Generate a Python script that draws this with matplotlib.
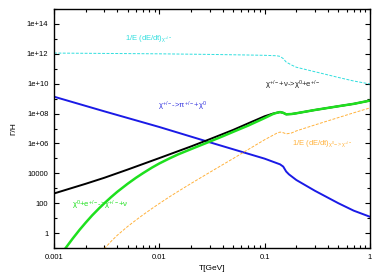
import matplotlib
matplotlib.use("Agg")
import matplotlib.pyplot as plt
import matplotlib.ticker as mticker
import numpy as np

plt.rcParams['font.family'] = ['Liberation Sans', 'DejaVu Sans']
plt.rcParams['mathtext.fontset'] = 'custom'
plt.rcParams['mathtext.rm'] = 'Liberation Sans'
plt.rcParams['mathtext.it'] = 'Liberation Sans'
plt.rcParams['mathtext.bf'] = 'Liberation Sans:bold'

# rates, stored as log10(Gamma/H)
T_cyan = [0.001, 0.01, 0.03, 0.07, 0.1, 0.13, 0.14, 0.15, 0.16, 0.18, 0.2, 0.3, 0.5, 0.7, 1.0]
cyan = [12.05, 12.0, 11.96, 11.92, 11.9, 11.87, 11.83, 11.68, 11.45, 11.25, 11.1, 10.8, 10.42, 10.18, 9.98]

T_blue = [0.001, 0.003, 0.01, 0.03, 0.1, 0.14, 0.15, 0.16, 0.17, 0.2, 0.3, 0.5, 0.7, 1.0]
blue = [9.13, 8.15, 7.1, 6.08, 4.98, 4.6, 4.45, 4.12, 3.93, 3.55, 2.83, 2.0, 1.5, 1.09]

T_black = [0.001, 0.002, 0.003, 0.005, 0.01, 0.02, 0.03, 0.05, 0.07, 0.1, 0.12, 0.14,
           0.15, 0.16, 0.18, 0.2, 0.3, 0.5, 0.7, 1.0]
black = [2.65, 3.3, 3.7, 4.25, 5.02, 5.8, 6.28, 6.9, 7.35, 7.82, 8.0, 8.1,
         8.05, 7.95, 7.97, 8.02, 8.24, 8.49, 8.65, 8.87]

T_green = [0.00129, 0.0015, 0.00175, 0.002, 0.0023, 0.0027, 0.003, 0.0035, 0.004, 0.005,
           0.006, 0.007, 0.0085, 0.01, 0.0125, 0.015, 0.02, 0.03, 0.04, 0.05, 0.07, 0.1,
           0.12, 0.13, 0.14, 0.15, 0.16, 0.18, 0.2, 0.3, 0.5, 0.7, 1.0]
green = [-1.0, -0.38, 0.22, 0.70, 1.18, 1.68, 1.99, 2.42, 2.77, 3.30,
         3.70, 4.01, 4.38, 4.66, 5.0, 5.26, 5.62, 6.12, 6.48, 6.77, 7.2, 7.7,
         7.97, 8.05, 8.1, 8.05, 7.95, 7.97, 8.02, 8.24, 8.49, 8.65, 8.87]

T_orange = [0.003, 0.0035, 0.004, 0.005, 0.006, 0.007, 0.0085, 0.01, 0.0125, 0.015, 0.02,
            0.03, 0.04, 0.05, 0.07, 0.1, 0.12, 0.13, 0.14, 0.15, 0.16, 0.18, 0.2, 0.3,
            0.5, 0.7, 1.0]
orange = [-1.05, -0.54, -0.14, 0.44, 0.87, 1.22, 1.64, 1.98, 2.43, 2.78, 3.32,
          4.06, 4.58, 4.98, 5.6, 6.25, 6.55, 6.68, 6.76, 6.72, 6.64, 6.7, 6.84, 7.24,
          7.73, 8.05, 8.38]

y_ticks = [1, 1e2, 1e4, 1e6, 1e8, 1e10, 1e12, 1e14]
y_labels = ['1', '100', '10000', '1e+06', '1e+08', '1e+10', '1e+12', '1e+14']
x_ticks = [0.001, 0.01, 0.1, 1]
x_labels = ['0.001', '0.01', '0.1', '1']

c_cyan = '#30dede'
c_blue = '#1a1ae6'
c_green = '#1ee01e'
c_orange = '#ffb23c'

fig = plt.figure(figsize=(3.82, 2.73), dpi=100)
ax = fig.add_axes([0.1414, 0.0916, 0.8272, 0.8754])

p = lambda v: 10 ** np.array(v)
ax.plot(T_cyan, p(cyan), color=c_cyan, lw=0.7, dashes=(3, 1.5))
ax.plot(T_blue, p(blue), color=c_blue, lw=1.4)
ax.plot(T_black, p(black), color='black', lw=1.4)
ax.plot(T_green, p(green), color=c_green, lw=1.8)
ax.plot(T_orange, p(orange), color=c_orange, lw=0.7, dashes=(3, 1.5))

ax.set_xscale('log')
ax.set_yscale('log')
ax.set_xlim(0.001, 1)
ax.set_ylim(0.1, 1e15)

ax.set_xticks(x_ticks)
ax.set_xticklabels(x_labels)
ax.xaxis.set_minor_locator(mticker.LogLocator(base=10, subs=np.arange(2, 10)))
ax.xaxis.set_minor_formatter(mticker.NullFormatter())
ax.set_yticks(y_ticks)
ax.set_yticklabels(y_labels)
ax.yaxis.set_minor_locator(mticker.FixedLocator([10 ** k for k in range(-1, 16, 2)]))
ax.yaxis.set_minor_formatter(mticker.NullFormatter())

ax.tick_params(which='both', direction='in', top=True, right=True, labelsize=5.5, width=0.8)
ax.tick_params(which='major', length=3.5, pad=4)
ax.tick_params(which='minor', length=2)
for s in ax.spines.values():
    s.set_linewidth(1.0)

ax.set_xlabel('T[GeV]', fontsize=6, labelpad=3)
ax.set_ylabel('Γ/H', fontsize=6, labelpad=7)

ax.text(0.0047, 1e13, r'1/E (dE/dt)$_{\chi^{+/-}}$', color=c_cyan, fontsize=5.5, va='center')
ax.text(0.0097, 10 ** 8.47, r'χ$^{+/-}$->π$^{+/-}$+χ$^0$', color='#3a3ae0', fontsize=5.5, va='center')
ax.text(0.1, 10 ** 9.87, r'χ$^{+/-}$+ν->χ$^0$+e$^{+/-}$', color='#222222', fontsize=5.5, va='center')
ax.text(0.00148, 10 ** 1.87, r'χ$^0$+e$^{+/-}$->χ$^{+/-}$+ν', color=c_green, fontsize=5.5, va='center')
ax.text(0.182, 1e6, r'1/E (dE/dt)$_{\chi^0\mathrm{->}\chi^{+/-}}$', color=c_orange, fontsize=5.5, va='center')

fig.savefig('out.png', dpi=100)
